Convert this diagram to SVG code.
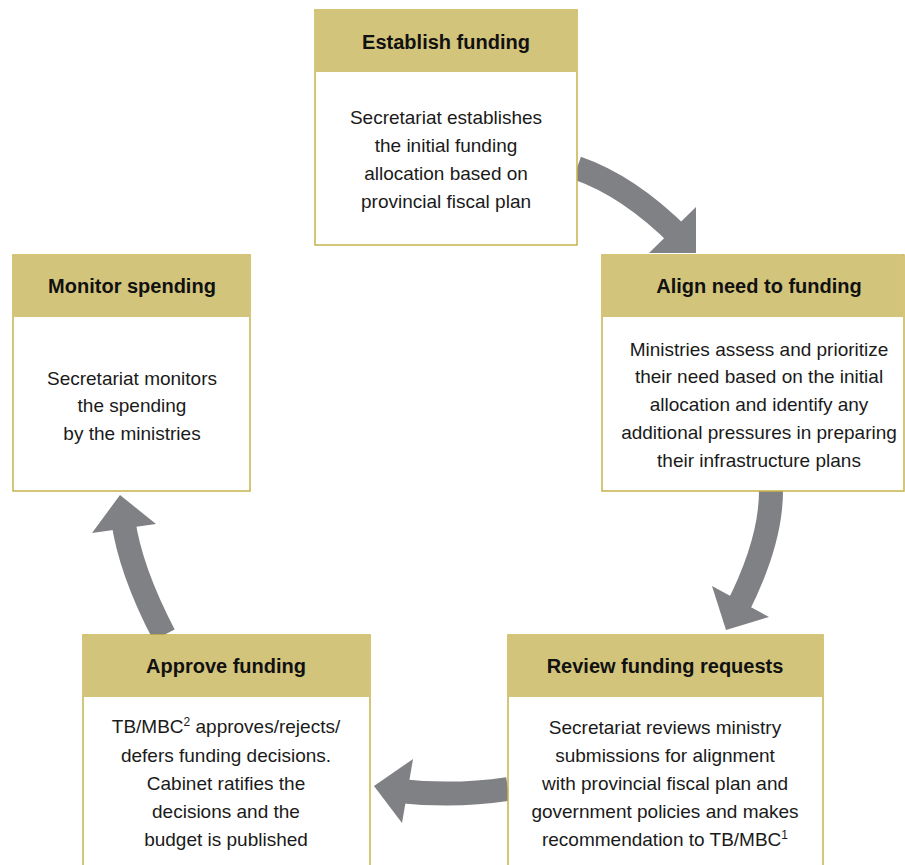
<svg xmlns="http://www.w3.org/2000/svg" width="905" height="865" viewBox="0 0 905 865">
<style>
.box{fill:#ffffff;stroke:#c6b34c;stroke-width:1.5}
.hdr{fill:#d3c47c}
.ht{font-family:"Liberation Sans",Arial,sans-serif;font-weight:bold;font-size:20px;fill:#111;text-anchor:middle}
.bt{font-family:"Liberation Sans",Arial,sans-serif;font-size:19px;fill:#1a1a1a;text-anchor:middle}
.sh{fill:none;stroke:#808184;stroke-width:24}
.hd{fill:#808184}
</style>
<rect width="905" height="865" fill="#ffffff"/>
<g id="connectors">
<path class="sh" d="M577,168 Q629,186 680,237"/>
<polygon class="hd" points="696,207 696,253 649,253"/>
<path class="sh" d="M771,491 Q771,542 737,609"/>
<polygon class="hd" points="712,586 726,630 769,617"/>
<path class="sh" d="M508,789 Q455,797 399,791"/>
<polygon class="hd" points="413,759 374,786 402,823"/>
<path class="sh" d="M164,635 Q130,570 123,519"/>
<polygon class="hd" points="120,495 92,533 156,524"/>
</g>
<g id="establish">
<rect class="box" x="315" y="10" width="262" height="235"/>
<rect class="hdr" x="315.75" y="10.75" width="260.5" height="61.25"/>
<text class="ht" x="446" y="49">Establish funding</text>
<text class="bt" x="446" y="124">Secretariat establishes</text>
<text class="bt" x="446" y="152">the initial funding</text>
<text class="bt" x="446" y="180">allocation based on</text>
<text class="bt" x="446" y="208">provincial fiscal plan</text>
</g>
<g id="align">
<rect class="box" x="602" y="255" width="302" height="236"/>
<rect class="hdr" x="602.75" y="255.75" width="300.5" height="61.25"/>
<text class="ht" x="759" y="293">Align need to funding</text>
<text class="bt" x="759" y="356">Ministries assess and prioritize</text>
<text class="bt" x="759" y="383">their need based on the initial</text>
<text class="bt" x="759" y="411">allocation and identify any</text>
<text class="bt" x="759" y="439">additional pressures in preparing</text>
<text class="bt" x="759" y="467">their infrastructure plans</text>
</g>
<g id="monitor">
<rect class="box" x="13" y="255" width="237" height="236"/>
<rect class="hdr" x="13.75" y="255.75" width="235.5" height="61.25"/>
<text class="ht" x="132" y="293">Monitor spending</text>
<text class="bt" x="132" y="385">Secretariat monitors</text>
<text class="bt" x="132" y="412">the spending</text>
<text class="bt" x="132" y="440">by the ministries</text>
</g>
<g id="review">
<rect class="box" x="508" y="635" width="315" height="231"/>
<rect class="hdr" x="508.75" y="635.75" width="313.5" height="61.25"/>
<text class="ht" x="665" y="673">Review funding requests</text>
<text class="bt" x="665" y="734">Secretariat reviews ministry</text>
<text class="bt" x="665" y="762">submissions for alignment</text>
<text class="bt" x="665" y="790">with provincial fiscal plan and</text>
<text class="bt" x="665" y="818">government policies and makes</text>
<text class="bt" x="665" y="846">recommendation to TB/MBC<tspan font-size="12" dy="-7">1</tspan></text>
</g>
<g id="approve">
<rect class="box" x="83" y="635" width="287" height="231"/>
<rect class="hdr" x="83.75" y="635.75" width="285.5" height="61.25"/>
<text class="ht" x="226" y="673">Approve funding</text>
<text class="bt" x="226" y="733">TB/MBC<tspan font-size="12" dy="-7">2</tspan><tspan dy="7"> approves/rejects/</tspan></text>
<text class="bt" x="226" y="762">defers funding decisions.</text>
<text class="bt" x="226" y="790">Cabinet ratifies the</text>
<text class="bt" x="226" y="818">decisions and the</text>
<text class="bt" x="226" y="846">budget is published</text>
</g>
</svg>
